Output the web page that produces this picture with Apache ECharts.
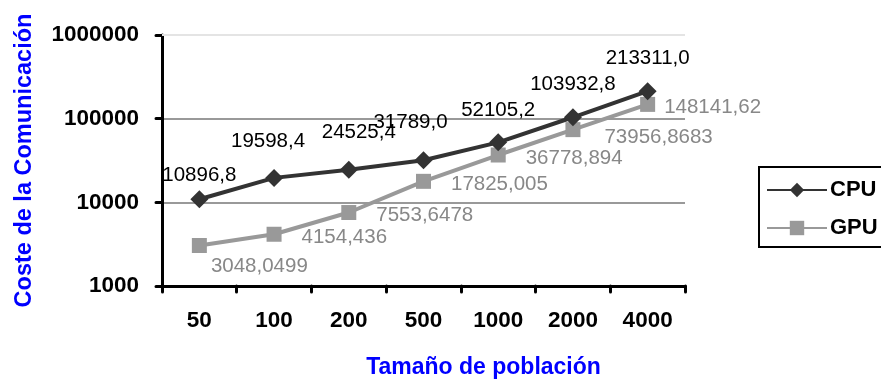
<!DOCTYPE html>
<html>
<head>
<meta charset="utf-8">
<script src="https://cdn.jsdelivr.net/npm/echarts@6/dist/echarts.min.js"></script>
<style>
  html, body { margin: 0; padding: 0; background: #fff; }
  #chart { width: 881px; height: 379px; }
</style>
</head>
<body>
<div id="chart"></div>
<script>
// Population sizes along the x axis
const categories = ['50', '100', '200', '500', '1000', '2000', '4000'];
// Communication cost per population size
const cpuValues = [10896.8, 19598.4, 24525.4, 31789.0, 52105.2, 103932.8, 213311.0];
const gpuValues = [3048.0499, 4154.436, 7553.6478, 17825.005, 36778.894, 73956.8683, 148141.62];
// Label texts as printed next to each point
const cpuLabels = ['10896,8', '19598,4', '24525,4', '31789,0', '52105,2', '103932,8', '213311,0'];
const gpuLabels = ['3048,0499', '4154,436', '7553,6478', '17825,005', '36778,894', '73956,8683', '148141,62'];
// Log axis tick labels
const yTickLabels = { 1000: '1000', 10000: '10000', 100000: '100000', 1000000: '1000000' };

const FONT = '"Liberation Sans", Arial, sans-serif';

// Some labels are nudged so neighbouring texts do not collide
const cpuLabelTweaks = {
  0: { distance: 4 },
  1: { offset: [-6, -4] },
  2: { offset: [10, -5] },
  3: { offset: [-13, -5] }
};
const gpuLabelTweaks = {
  0: { position: 'bottom', distance: 3, offset: [60, 0] },
  5: { offset: [4, 8] },
  6: { distance: 9 }
};

const cpuData = cpuValues.map((v, i) =>
  cpuLabelTweaks[i] ? { value: v, label: cpuLabelTweaks[i] } : { value: v });
const gpuData = gpuValues.map((v, i) =>
  gpuLabelTweaks[i] ? { value: v, label: gpuLabelTweaks[i] } : { value: v });

const chart = echarts.init(document.getElementById('chart'), null, { renderer: 'canvas' });

chart.setOption({
  animation: false,
  backgroundColor: '#ffffff',
  grid: { left: 162, right: 196, top: 35, bottom: 93, containLabel: false, outerBoundsMode: 'none' },
  legend: {
    orient: 'vertical',
    left: 759,
    top: 167,
    padding: [12, 30, 8, 7],
    itemGap: 16,
    itemWidth: 60,
    itemHeight: 18,
    borderColor: '#000',
    borderWidth: 2,
    textStyle: {
      fontFamily: FONT, fontWeight: 'bold', fontSize: 22, lineHeight: 20, color: '#000',
      padding: [0, 0, 0, -2]
    },
    data: ['CPU', 'GPU']
  },
  xAxis: {
    type: 'category',
    data: categories,
    boundaryGap: true,
    name: 'Tamaño de población',
    nameLocation: 'middle',
    nameGap: 70,
    nameTextStyle: {
      fontFamily: FONT, fontWeight: 'bold', fontSize: 23, color: '#0000ff',
      padding: [0, 0, 0, 120]
    },
    axisLine: { lineStyle: { color: '#000', width: 3, cap: 'round' } },
    axisTick: { show: true, length: 6, lineStyle: { color: '#000', width: 3, cap: 'round' } },
    axisLabel: { fontFamily: FONT, fontWeight: 'bold', fontSize: 22.5, color: '#000', margin: 23 },
    splitLine: { show: false }
  },
  yAxis: {
    type: 'log',
    logBase: 10,
    min: 1000,
    max: 1000000,
    name: 'Coste de la Comunicación',
    nameLocation: 'middle',
    nameRotate: 90,
    nameGap: 125,
    nameTextStyle: { fontFamily: FONT, fontWeight: 'bold', fontSize: 23.5, color: '#0000ff' },
    axisLine: { show: true, lineStyle: { color: '#000', width: 3, cap: 'round' } },
    axisTick: { show: true, length: 6, lineStyle: { color: '#000', width: 3, cap: 'round' } },
    axisLabel: {
      fontFamily: FONT, fontWeight: 'bold', fontSize: 22.5, color: '#000', margin: 23,
      formatter: v => yTickLabels[Math.round(v)] || String(Math.round(v))
    },
    splitLine: {
      show: true,
      showMaxLine: false,
      lineStyle: { color: '#999', width: 2 }
    },
    minorTick: { show: false }
  },
  series: [
    {
      name: 'CPU',
      type: 'line',
      data: cpuData,
      symbol: 'diamond',
      symbolSize: 18,
      z: 3,
      lineStyle: { color: '#333333', width: 4 },
      itemStyle: { color: '#333333' },
      label: {
        show: true,
        position: 'top',
        distance: 13,
        fontFamily: FONT,
        fontSize: 20.5,
        color: '#000',
        formatter: p => cpuLabels[p.dataIndex]
      },
      // faint top gridline at the axis maximum
      markLine: {
        silent: true,
        symbol: 'none',
        label: { show: false },
        lineStyle: { color: '#e4e4e4', width: 2, type: 'solid' },
        data: [{ yAxis: 1000000 }]
      }
    },
    {
      name: 'GPU',
      type: 'line',
      data: gpuData,
      symbol: 'rect',
      symbolSize: 15,
      z: 2,
      lineStyle: { color: '#999999', width: 4 },
      itemStyle: { color: '#999999' },
      label: {
        show: true,
        position: 'right',
        distance: 20,
        offset: [0, 3],
        fontFamily: FONT,
        fontSize: 20.5,
        color: '#888888',
        formatter: p => gpuLabels[p.dataIndex]
      }
    }
  ]
});
</script>
</body>
</html>
